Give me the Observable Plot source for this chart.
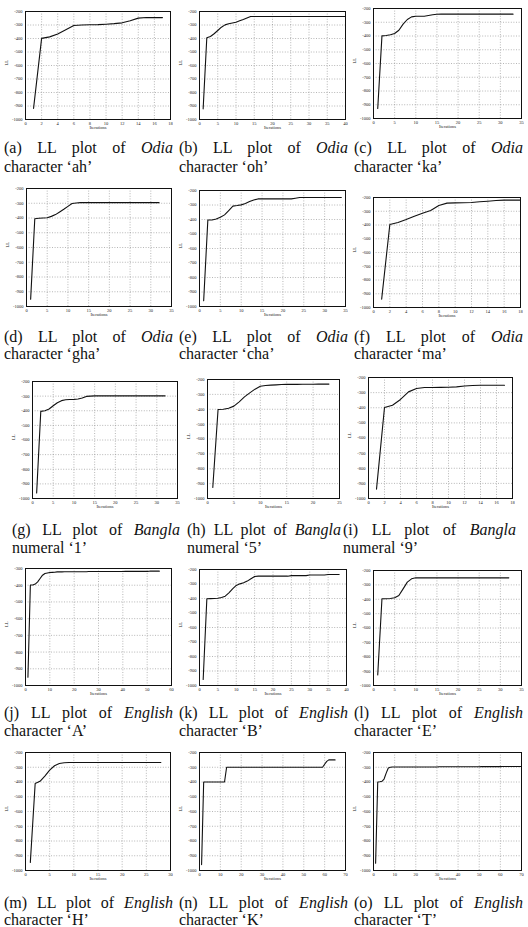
<!DOCTYPE html>
<html>
<head>
<meta charset="utf-8">
<script src="https://cdn.jsdelivr.net/npm/d3@7"></script>
<script src="https://cdn.jsdelivr.net/npm/@observablehq/plot@0.6"></script>
<style>
  body { margin: 0; background: #fff; }
  #fig { position: relative; width: 528px; height: 927px; overflow: hidden; background: #fff; }
  .panel { position: absolute; }
  .panel svg { display: block; }
  .cap { position: absolute; font-family: "Liberation Serif", "DejaVu Serif", serif; font-size: 16px; color: #111; line-height: 15px; white-space: nowrap; }
  .cap.l1 { text-align: justify; text-align-last: justify; }
</style>
</head>
<body>
<div id="fig"></div>
<script>
// Log-likelihood per training iteration for each character model
const llOdiaAh = [-918,-399,-388,-366,-335,-304,-300,-298,-297,-294,-290,-284,-268,-249,-245,-245,-245];
const llOdiaOh = [-921,-395,-385,-365,-341,-316,-299,-291,-285,-279,-269,-259,-248,-237,
  -237,-237,-237,-237,-237,-237,-237,-237,-237,-237,-237,-237,-237,-237,-237,-237,-237,-237,-237,-237,-237,-237,-237,-237,-237,-237];
const llOdiaKa = [-927,-399,-396,-391,-382,-358,-314,-280,-261,-256,-256,-256,-251,-246,-242,
  -241,-241,-241,-241,-241,-241,-241,-241,-241,-241,-241,-241,-241,-241,-241,-241,-241,-241];
const llOdiaGha = [-950,-405,-402,-400,-398,-389,-377,-359,-341,-321,-302,-298,
  -296,-296,-296,-296,-296,-296,-296,-296,-296,-296,-296,-296,-296,-296,-296,-296,-296,-296,-296,-296];
const llOdiaCha = [-960,-403,-403,-396,-384,-368,-338,-308,-304,-299,-290,-276,-265,-258,
  -258,-258,-258,-258,-258,-258,-258,-258,-253,-248,-248,-248,-248,-248,-248,-248,-248,-248,-248,-248];
const llOdiaMa = [-939,-396,-382,-360,-336,-314,-295,-258,-241,-239,-238,-236,-231,-227,-222,-219,-219,-219];
const llBangla1 = [-962,-404,-400,-388,-366,-345,-331,-325,-323,-322,-320,-313,-302,-300,
  -298,-298,-298,-298,-298,-298,-298,-298,-298,-298,-298,-298,-298,-298,-298,-298,-298,-298];
const llBangla5 = [-926,-402,-400,-393,-379,-350,-317,-290,-265,-245,-240,-238,-236,-234,-233,-233,-233,-232,-232,-232,-231,-231,-231];
const llBangla9 = [-938,-398,-383,-345,-295,-273,-266,-266,-265,-264,-262,-256,-253,-251,-251,-251,-251];
const llEnglishA = [-950,-399,-399,-393,-380,-360,-340,-330,-327,-324,-323,-322,-320,-320,-320,
  -319,-319,-319,-319,-319,-319,-319,-319,-319,-319,
  -318,-318,-318,-318,-318,-318,-318,-318,-318,-318,-318,-318,-318,-318,-318,
  -317,-317,-317,-317,-317,-317,-317,-317,-317,-317,
  -316,-316,-316,-316,-316];
const llEnglishB = [-959,-402,-401,-400,-398,-393,-384,-361,-333,-310,-299,-292,-280,-264,-248,
  -246,-246,-246,-246,-246,-246,-246,-246,-246,
  -242,-242,-242,-242,-242,-238,-238,-238,-238,-238,-234,-234,-234,-234];
const llEnglishE = [-926,-397,-397,-395,-390,-374,-328,-281,-258,-251,
  -251,-251,-251,-251,-251,-251,-251,-251,-251,-251,-251,-251,-251,-251,-251,-251,-251,-251,-251,-251,-251,-251];
const llEnglishH = [-945,-410,-395,-360,-320,-290,-275,-270,
  -268,-268,-268,-268,-268,-268,-268,-268,-268,-268,-268,-268,-268,-268,-268,-268,-268,-268,-268,-268];
const llEnglishK = [-960,-400,-400,-400,-400,-400,-400,-400,-400,-400,-400,-400,
  -300,-300,-300,-300,-300,-300,-300,-300,-300,-300,-300,-300,-300,-300,-300,-300,-300,-300,-300,-300,
  -300,-300,-300,-300,-300,-300,-300,-300,-300,-300,-300,-300,-300,-300,-300,-300,-300,-300,-300,-300,
  -300,-300,-300,-300,-300,-300,-300,-280,-260,-250,-250,-250,-250];
const llEnglishT = [-950,-400,-398,-395,-380,-340,-305,-300,
  -298,-298,-298,-298,-298,-298,-298,-298,-298,-298,-298,-298,-298,-298,-298,-298,-298,-298,-298,-298,-298,-298,
  -297,-297,-297,-297,-297,-297,-297,-297,-297,-297,-297,-297,-297,-297,-297,-297,-297,-297,-297,-297,
  -296,-296,-296,-296,-296,-296,-296,-296,-296,-296,-295,-295,-295,-295,-295,-295,-295,-295,-295,-295];

// Caption pieces
const capIds = ["a","b","c","d","e","f","g","h","i","j","k","l","m","n","o"];
const capScripts = ["Odia","Odia","Odia","Odia","Odia","Odia","Bangla","Bangla","Bangla","English","English","English","English","English","English"];
const capKinds = ["character","character","character","character","character","character","numeral","numeral","numeral","character","character","character","character","character","character"];
const capNames = ["ah","oh","ka","gha","cha","ma","1","5","9","A","B","E","H","K","T"];

// Axis extents for each panel
const xMaxes = [18,40,35,35,35,18,35,25,18,60,40,35,30,70,70];
const xSteps = [2,5,5,5,5,2,5,5,2,10,5,5,5,10,10];
const yTops  = [-200,-200,-200,-200,-200,-200,-200,-200,-200,-300,-200,-200,-200,-200,-200];
const series = [llOdiaAh,llOdiaOh,llOdiaKa,llOdiaGha,llOdiaCha,llOdiaMa,llBangla1,llBangla5,llBangla9,
  llEnglishA,llEnglishB,llEnglishE,llEnglishH,llEnglishK,llEnglishT];

// Page layout: plot-frame boxes [x0, y0, x1, y1] and caption placement [left, right, line-1 centre, line-2 centre]
const frames = [
  [25,11,170,119],[199,11,345,119],[373,8,521,118],
  [26,188,171,306],[199,190,345,306],[373,197,520,307],
  [32,381,177,498],[207,379,339,498],[368,377,512,498],
  [25,568,171,685],[199,569,346,685],[373,570,521,685],
  [25,752,170,870],[199,752,345,870],[373,752,521,870]
];
const capBoxes = [
  [4,173,147,166],[179,348,147,166],[354,523,147,166],
  [4,173,336,353],[179,348,336,353],[354,523,336,353],
  [12,180,529,547],[187,341,529,547],[343,516,529,547],
  [4,173,712,730],[179,348,712,730],[354,523,712,730],
  [4,173,902,919],[179,348,902,919],[354,523,902,919]
];

const fig = document.getElementById("fig");
const mL = 26, mR = 3, mT = 4, mB = 14;

series.forEach((ll, k) => {
  const [x0, y0, x1, y1] = frames[k];
  const xTicks = d3.range(0, xMaxes[k] + 0.001, xSteps[k]);
  const yTicks = d3.range(-1000, yTops[k] + 0.001, 100);
  const pts = ll.map((v, i) => ({it: i + 1, ll: v}));
  const chart = Plot.plot({
    width: (x1 - x0) + mL + mR,
    height: (y1 - y0) + mT + mB,
    marginLeft: mL, marginRight: mR, marginTop: mT, marginBottom: mB,
    style: {fontFamily: "Liberation Serif, serif", fontSize: "4.5px", background: "transparent", color: "#222"},
    x: {domain: [0, xMaxes[k]]},
    y: {domain: [-1000, yTops[k]]},
    marks: [
      Plot.gridX(xTicks, {stroke: "#777", strokeOpacity: 0.9, strokeWidth: 0.6, strokeDasharray: "1,1.6"}),
      Plot.gridY(yTicks, {stroke: "#777", strokeOpacity: 0.9, strokeWidth: 0.6, strokeDasharray: "1,1.6"}),
      Plot.axisX({ticks: xTicks, tickSize: 0, tickPadding: 2.5, tickFormat: d => String(d), label: null}),
      Plot.axisY({ticks: yTicks, tickSize: 0, tickPadding: 3, tickFormat: d => String(d), label: null}),
      Plot.text(["Iterations"], {frameAnchor: "bottom", dy: 9.5, fontSize: 4.5}),
      Plot.text(["LL"], {frameAnchor: "left", dx: -19, rotate: -90, fontSize: 4.5}),
      Plot.line(pts, {x: "it", y: "ll", stroke: "#111", strokeWidth: 1.1, clip: true}),
      Plot.frame({stroke: "#111", strokeWidth: 1})
    ]
  });
  const holder = document.createElement("div");
  holder.className = "panel";
  holder.style.left = (x0 - mL) + "px";
  holder.style.top = (y0 - mT) + "px";
  holder.appendChild(chart);
  fig.appendChild(holder);

  const [cx0, cx1, cy1, cy2] = capBoxes[k];
  const line1 = document.createElement("div");
  line1.className = "cap l1";
  line1.style.left = cx0 + "px";
  line1.style.top = (cy1 - 7.5) + "px";
  line1.style.width = (cx1 - cx0) + "px";
  line1.innerHTML = `(${capIds[k]}) LL plot of <i>${capScripts[k]}</i>`;
  fig.appendChild(line1);

  const line2 = document.createElement("div");
  line2.className = "cap l2";
  line2.style.left = cx0 + "px";
  line2.style.top = (cy2 - 7.5) + "px";
  line2.textContent = `${capKinds[k]} \u2018${capNames[k]}\u2019`;
  fig.appendChild(line2);
});
</script>
</body>
</html>
